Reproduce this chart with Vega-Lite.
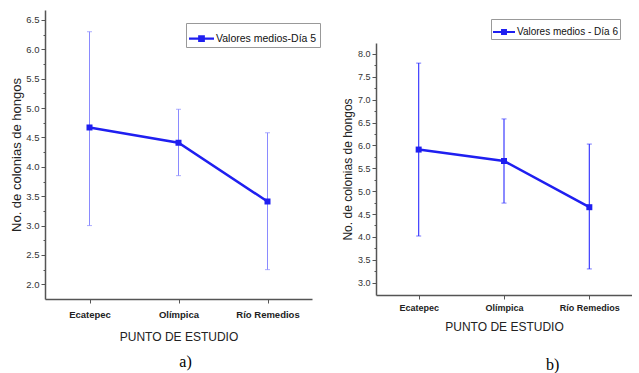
{
  "$schema": "https://vega.github.io/schema/vega-lite/v6.json",
  "padding": {"left": 10, "top": 10, "right": 0, "bottom": 0},
  "background": "white",
  "spacing": 20,
  "resolve": {"scale": {"color": "independent"}, "legend": {"color": "independent"}},
  "config": {
    "view": {"stroke": null},
    "axis": {"grid": false, "labelOverlap": false},
    "title": {"font": "Liberation Serif", "fontSize": 16, "fontWeight": "normal", "color": "#000"}
  },
  "hconcat": [
    {
      "width": 267,
      "height": 289,
      "title": {"text": "a)", "orient": "bottom", "anchor": "middle", "dx": 7, "offset": 11},
      "data": {"values": [
        {"punto": "Ecatepec", "media": 4.67, "lo": 3.0, "hi": 6.3, "serie": "Valores medios-Día 5"},
        {"punto": "Olímpica", "media": 4.41, "lo": 3.85, "hi": 4.98, "serie": "Valores medios-Día 5"},
        {"punto": "Río Remedios", "media": 3.41, "lo": 2.25, "hi": 4.58, "serie": "Valores medios-Día 5"}
      ]},
      "encoding": {
        "x": {"field": "punto", "type": "nominal", "sort": null,
          "scale": {"type": "point", "padding": 0.5},
          "axis": {"title": "PUNTO DE ESTUDIO", "labelAngle": 0, "labelFont": "Liberation Sans", "labelFontWeight": "bold", "labelFontSize": 9.5, "labelColor": "#222", "titleFont": "Liberation Sans", "titleFontSize": 12, "titleFontWeight": "normal", "titleColor": "#222", "domainColor": "#555", "domainWidth": 1.5, "tickColor": "#555", "tickSize": 4, "labelPadding": 6, "titlePadding": 13}}
      },
      "layer": [
        {
          "mark": {"type": "errorbar", "ticks": {"size": 5, "color": "#8a8aff"}, "rule": {"color": "#8a8aff", "strokeWidth": 1}},
          "encoding": {
            "y": {"field": "hi", "type": "quantitative",
              "scale": {"domain": [1.75, 6.67], "nice": false, "zero": false},
              "axis": {"title": "No. de colonias de hongos", "values": [2, 2.25, 2.5, 2.75, 3, 3.25, 3.5, 3.75, 4, 4.25, 4.5, 4.75, 5, 5.25, 5.5, 5.75, 6, 6.25, 6.5],
                "labelExpr": "round(datum.value * 4) % 2 == 0 ? format(datum.value, '.1f') : ''",
                "labelOverlap": false,
                "tickSize": {"condition": {"test": "round(datum.value * 4) % 2 != 0", "value": 2}, "value": 4},
                "labelFont": "Liberation Sans", "labelFontSize": 9.5, "labelColor": "#333", "labelPadding": 2,
                "titleFont": "Liberation Sans", "titleFontSize": 13, "titleFontWeight": "normal", "titleColor": "#222", "titlePadding": 2,
                "domainColor": "#555", "domainWidth": 1.5, "tickColor": "#555"}},
            "y2": {"field": "lo"}
          }
        },
        {
          "mark": {"type": "line", "color": "#1f1ff0", "strokeWidth": 2.5},
          "encoding": {"y": {"field": "media", "type": "quantitative",
              "axis": {"title": "No. de colonias de hongos", "values": [2, 2.25, 2.5, 2.75, 3, 3.25, 3.5, 3.75, 4, 4.25, 4.5, 4.75, 5, 5.25, 5.5, 5.75, 6, 6.25, 6.5],
                "labelExpr": "round(datum.value * 4) % 2 == 0 ? format(datum.value, '.1f') : ''",
                "labelOverlap": false,
                "tickSize": {"condition": {"test": "round(datum.value * 4) % 2 != 0", "value": 2}, "value": 4},
                "labelFont": "Liberation Sans", "labelFontSize": 9.5, "labelColor": "#333", "labelPadding": 2,
                "titleFont": "Liberation Sans", "titleFontSize": 13, "titleFontWeight": "normal", "titleColor": "#222", "titlePadding": 2,
                "domainColor": "#555", "domainWidth": 1.5, "tickColor": "#555"}}}
        },
        {
          "mark": {"type": "point", "shape": "square", "filled": true, "size": 36, "opacity": 1},
          "encoding": {
            "y": {"field": "media", "type": "quantitative",
              "axis": {"title": "No. de colonias de hongos", "values": [2, 2.25, 2.5, 2.75, 3, 3.25, 3.5, 3.75, 4, 4.25, 4.5, 4.75, 5, 5.25, 5.5, 5.75, 6, 6.25, 6.5],
                "labelExpr": "round(datum.value * 4) % 2 == 0 ? format(datum.value, '.1f') : ''",
                "labelOverlap": false,
                "tickSize": {"condition": {"test": "round(datum.value * 4) % 2 != 0", "value": 2}, "value": 4},
                "labelFont": "Liberation Sans", "labelFontSize": 9.5, "labelColor": "#333", "labelPadding": 2,
                "titleFont": "Liberation Sans", "titleFontSize": 13, "titleFontWeight": "normal", "titleColor": "#222", "titlePadding": 2,
                "domainColor": "#555", "domainWidth": 1.5, "tickColor": "#555"}},
            "color": {"field": "serie", "type": "nominal", "scale": {"range": ["#1f1ff0"]},
              "legend": {"title": null, "orient": "none", "legendX": 141, "legendY": 13, "strokeColor": "#999", "fillColor": "white", "padding": 3,
                "symbolType": "M-1,-0.09H1V0.09H-1Z M-0.27,-0.27H0.27V0.27H-0.27Z", "symbolSize": 625, "symbolOpacity": 1, "symbolStrokeWidth": 0,
                "labelFont": "Liberation Sans", "labelFontSize": 10.5, "labelColor": "#111", "labelOffset": 2, "labelLimit": 300}}
          }
        }
      ]
    },
    {
      "title": {"text": "b)", "orient": "bottom", "anchor": "middle", "dx": 66, "offset": 25},
      "spacing": 10,
      "vconcat": [
        {
          "width": 256,
          "height": 23,
          "data": {"values": []},
          "mark": {"type": "point", "opacity": 0},
          "encoding": {}
        },
        {
          "width": 256,
          "height": 252,
          "data": {"values": [
            {"punto": "Ecatepec", "media": 5.91, "lo": 4.02, "hi": 7.8, "serie": "Valores medios - Día 6"},
            {"punto": "Olímpica", "media": 5.66, "lo": 4.74, "hi": 6.58, "serie": "Valores medios - Día 6"},
            {"punto": "Río Remedios", "media": 4.65, "lo": 3.3, "hi": 6.03, "serie": "Valores medios - Día 6"}
          ]},
          "encoding": {
            "x": {"field": "punto", "type": "nominal", "sort": null,
              "scale": {"type": "point", "padding": 0.5},
              "axis": {"title": "PUNTO DE ESTUDIO", "labelAngle": 0, "labelFont": "Liberation Sans", "labelFontWeight": "bold", "labelFontSize": 9, "labelColor": "#222", "titleFont": "Liberation Sans", "titleFontSize": 12, "titleFontWeight": "normal", "titleColor": "#222", "domainColor": "#555", "domainWidth": 1.5, "tickColor": "#555", "tickSize": 4, "labelPadding": 4, "titlePadding": 9}}
          },
          "layer": [
            {
              "mark": {"type": "errorbar", "ticks": {"size": 5, "color": "#3c3cff"}, "rule": {"color": "#3c3cff", "strokeWidth": 1.2}},
              "encoding": {
                "y": {"field": "hi", "type": "quantitative",
                  "scale": {"domain": [2.73, 8.24], "nice": false, "zero": false},
                  "axis": {"title": "No. de colonias de hongos", "values": [3, 3.25, 3.5, 3.75, 4, 4.25, 4.5, 4.75, 5, 5.25, 5.5, 5.75, 6, 6.25, 6.5, 6.75, 7, 7.25, 7.5, 7.75, 8],
                    "labelExpr": "round(datum.value * 4) % 2 == 0 ? format(datum.value, '.1f') : ''",
                    "labelOverlap": false,
                    "tickSize": {"condition": {"test": "round(datum.value * 4) % 2 != 0", "value": 2}, "value": 4},
                    "labelFont": "Liberation Sans", "labelFontSize": 9, "labelColor": "#333", "labelPadding": 2,
                    "titleFont": "Liberation Sans", "titleFontSize": 12, "titleFontWeight": "normal", "titleColor": "#222", "titlePadding": 3,
                    "domainColor": "#555", "domainWidth": 1.5, "tickColor": "#555"}},
                "y2": {"field": "lo"}
              }
            },
            {
              "mark": {"type": "line", "color": "#1f1ff0", "strokeWidth": 2.5},
              "encoding": {"y": {"field": "media", "type": "quantitative",
                  "axis": {"title": "No. de colonias de hongos", "values": [3, 3.25, 3.5, 3.75, 4, 4.25, 4.5, 4.75, 5, 5.25, 5.5, 5.75, 6, 6.25, 6.5, 6.75, 7, 7.25, 7.5, 7.75, 8],
                    "labelExpr": "round(datum.value * 4) % 2 == 0 ? format(datum.value, '.1f') : ''",
                    "labelOverlap": false,
                    "tickSize": {"condition": {"test": "round(datum.value * 4) % 2 != 0", "value": 2}, "value": 4},
                    "labelFont": "Liberation Sans", "labelFontSize": 9, "labelColor": "#333", "labelPadding": 2,
                    "titleFont": "Liberation Sans", "titleFontSize": 12, "titleFontWeight": "normal", "titleColor": "#222", "titlePadding": 3,
                    "domainColor": "#555", "domainWidth": 1.5, "tickColor": "#555"}}}
            },
            {
              "mark": {"type": "point", "shape": "square", "filled": true, "size": 36, "opacity": 1},
              "encoding": {
                "y": {"field": "media", "type": "quantitative",
                  "axis": {"title": "No. de colonias de hongos", "values": [3, 3.25, 3.5, 3.75, 4, 4.25, 4.5, 4.75, 5, 5.25, 5.5, 5.75, 6, 6.25, 6.5, 6.75, 7, 7.25, 7.5, 7.75, 8],
                    "labelExpr": "round(datum.value * 4) % 2 == 0 ? format(datum.value, '.1f') : ''",
                    "labelOverlap": false,
                    "tickSize": {"condition": {"test": "round(datum.value * 4) % 2 != 0", "value": 2}, "value": 4},
                    "labelFont": "Liberation Sans", "labelFontSize": 9, "labelColor": "#333", "labelPadding": 2,
                    "titleFont": "Liberation Sans", "titleFontSize": 12, "titleFontWeight": "normal", "titleColor": "#222", "titlePadding": 3,
                    "domainColor": "#555", "domainWidth": 1.5, "tickColor": "#555"}},
                "color": {"field": "serie", "type": "nominal", "scale": {"range": ["#1f1ff0"]},
                  "legend": {"title": null, "orient": "none", "legendX": 115, "legendY": 9, "strokeColor": "#999", "fillColor": "white", "padding": 2,
                    "symbolType": "M-1,-0.09H1V0.09H-1Z M-0.27,-0.27H0.27V0.27H-0.27Z", "symbolSize": 484, "symbolOpacity": 1, "symbolStrokeWidth": 0,
                    "labelFont": "Liberation Sans", "labelFontSize": 10, "labelColor": "#111", "labelOffset": 2, "labelLimit": 300}}
              }
            }
          ]
        }
      ]
    }
  ]
}
